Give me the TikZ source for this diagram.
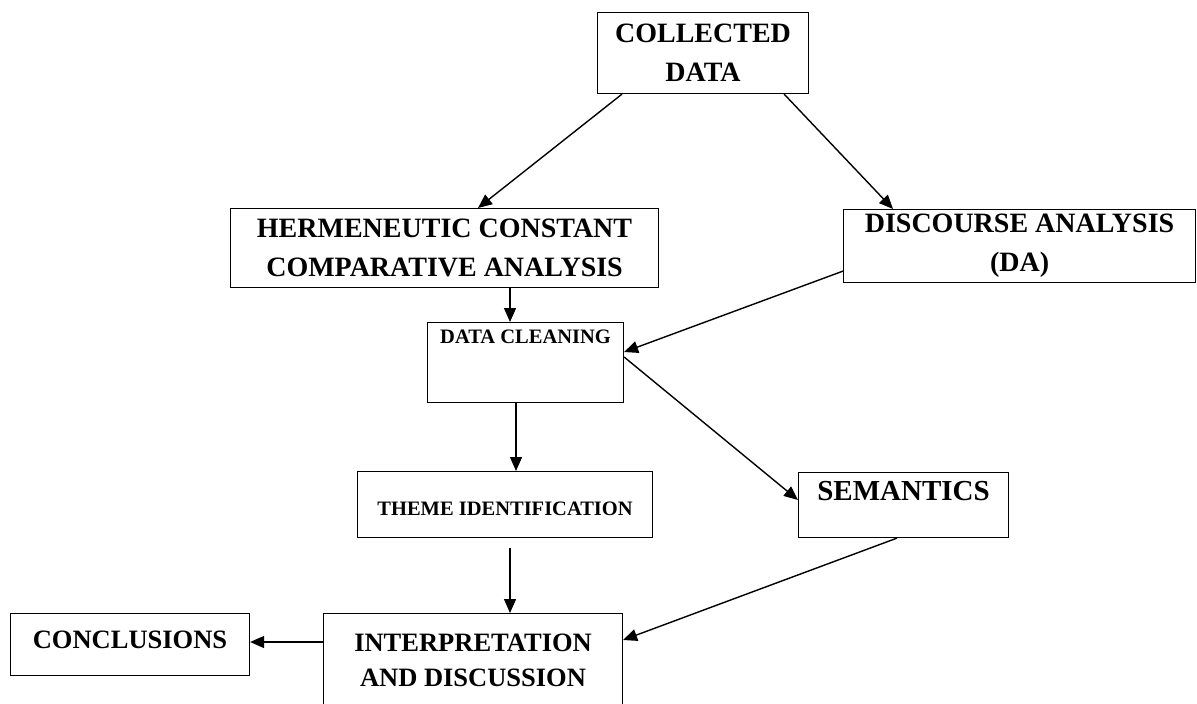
\documentclass[tikz,border=0pt]{standalone}
\usepackage{fontspec}
\setmainfont{Liberation Serif}
\usetikzlibrary{arrows.meta}

\tikzset{
    box/.style={draw, line width=1.1pt, inner sep=0pt, anchor=north west, align=center},
    bigtext/.style={font=\bfseries\fontsize{28}{39}\selectfont},
    midtext/.style={font=\bfseries\fontsize{26.5}{35}\selectfont},
    smalltext/.style={font=\bfseries\fontsize{20.5}{24}\selectfont}
}

\begin{document}
\begin{tikzpicture}[x=1pt, y=-1pt, line width=1.4pt, >={Triangle[length=14pt,width=12pt]}]
    \useasboundingbox (0,0) rectangle (1197,704);
    \clip (0,0) rectangle (1197,704);

    % Nodes {cd, herm, da, dc, theme, sem, interp, concl}
    \node [box, bigtext, minimum width=211pt, minimum height=81pt]  (cd)     at (597,12)  {COLLECTED\\DATA};
    \node [box, bigtext, minimum width=428pt, minimum height=79pt]  (herm)   at (230,208) {HERMENEUTIC CONSTANT\\COMPARATIVE ANALYSIS};
    \node [box, bigtext, minimum width=352pt, minimum height=73pt]  (da)     at (843,209) {DISCOURSE ANALYSIS\\(DA)};
    \node [box, smalltext, minimum width=196pt, text height=21pt, text depth=59pt] (dc) at (427,322) {DATA CLEANING};
    \node [box, smalltext, minimum width=295pt, text height=44pt, text depth=22pt] (theme) at (357,471) {THEME IDENTIFICATION};
    \node [box, font=\bfseries\fontsize{29}{35}\selectfont, minimum width=210pt, text height=28pt, text depth=37pt] (sem) at (798,472) {SEMANTICS};
    \node [box, midtext, minimum width=299pt, minimum height=94pt]  (interp) at (323,613) {INTERPRETATION\\AND DISCUSSION};
    \node [box, midtext, minimum width=239pt, text height=35pt, text depth=27pt] (concl) at (10,613) {CONCLUSIONS};

    % Paths
    \path [->] ([xshift=25pt]cd.south west)          edge ([xshift=248pt]herm.north west);
    \path [->] ([xshift=-25pt]cd.south east)         edge ([xshift=50pt]da.north west);
    \path [->] ([xshift=280pt]herm.south west)       edge ([xshift=83pt]dc.north west);
    \path [->] ([yshift=12pt]da.south west)          edge ([yshift=-30pt]dc.north east);
    \path [->] ([xshift=89pt]dc.south west)          edge ([xshift=159pt]theme.north west);
    \path [->] ([yshift=-35pt]dc.north east)         edge ([yshift=-28pt]sem.north west);
    \path [->] ([xshift=153pt,yshift=-10pt]theme.south west) edge ([xshift=187pt]interp.north west);
    \path [->] ([xshift=99pt]sem.south west)         edge ([yshift=-27pt]interp.north east);
    \path [->] ([yshift=-29pt]interp.north west)     edge ([yshift=-29pt]concl.north east);

\end{tikzpicture}
\end{document}
